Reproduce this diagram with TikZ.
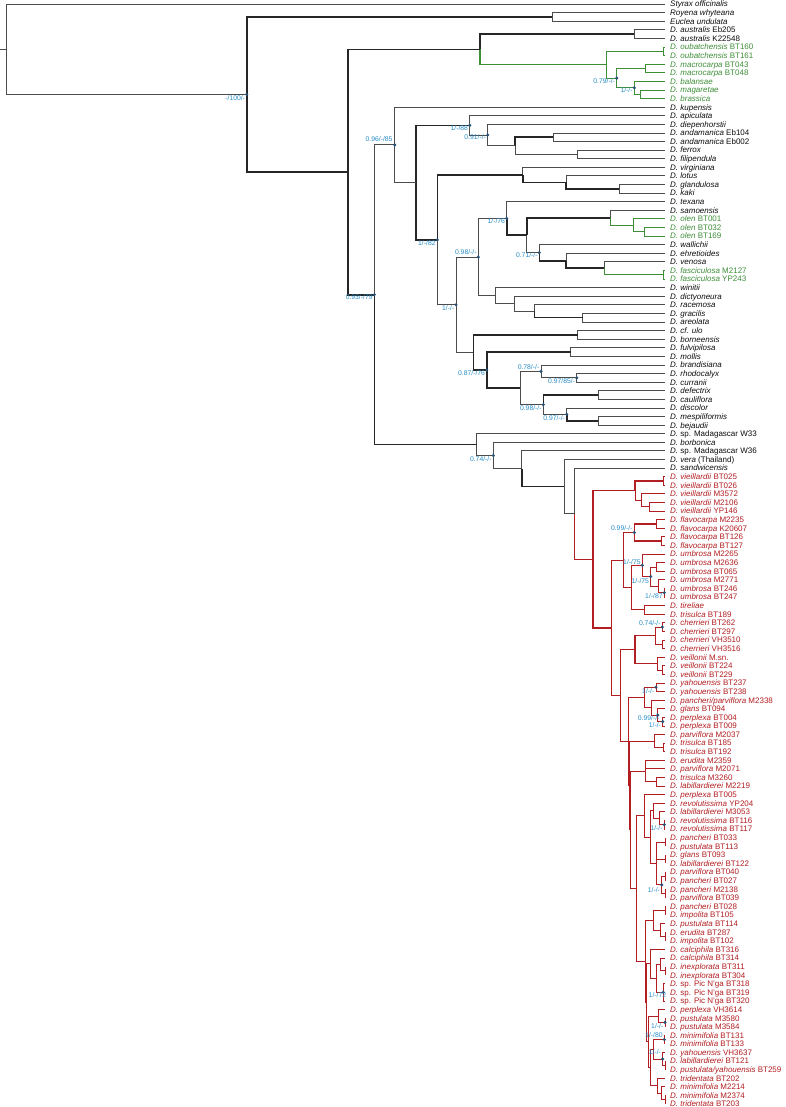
\documentclass[tikz,border=0pt]{standalone}
\usepackage{fontspec}
\setmainfont{Liberation Sans}
\usetikzlibrary{calc}

\definecolor{ink}{gray}{0.3}
\definecolor{tx}{gray}{0.05}
\definecolor{leaf}{RGB}{62,142,56}
\definecolor{nc}{RGB}{178,30,34}
\definecolor{supc}{RGB}{38,140,200}
\definecolor{dotc}{RGB}{40,82,118}

% internal node: x given, y halfway between first and last child
\newcommand\nd[4]{\coordinate (#1) at ($(#3)!.5!(#4)$);\coordinate (#1) at (#2,0 |- #1);}
% elbow branches from a parent to its children
\newcommand\kids[3][]{\foreach \k in {#3}{\draw[br,#1] (#2) |- (\k);}}
% support value with its dot
\newcommand\bs[5][-1.5]{\fill[dotc] (#3) circle[radius=1.7pt];
  \node[sup] (#2) at ([shift={(#1,{#5+2.4})}]#3) {#4};}

\begin{document}
\begin{tikzpicture}[x=1pt,y=-1pt,
  br/.style={draw=ink, line width=0.8pt},
  thk/.style={draw=black!85, line width=1.6pt},
  gn/.style={draw=leaf},
  rd/.style={draw=nc},
  tip/.style={anchor=base west, inner sep=0pt, font=\fontsize{8}{9}\selectfont},
  sup/.style={anchor=base east, inner sep=0pt, text=supc, font=\fontsize{6.8}{7}\selectfont},
]
\useasboundingbox[fill=white] (0,0) rectangle (785,1107);

% tips
\foreach \c/\lab [count=\i] in {
  tx/{\textit{Styrax officinalis}}, tx/{\textit{Royena whyteana}}, tx/{\textit{Euclea undulata}},
  tx/{\textit{D. australis} Eb205}, tx/{\textit{D. australis} K22548},
  leaf/{\textit{D. oubatchensis} BT160}, leaf/{\textit{D. oubatchensis} BT161},
  leaf/{\textit{D. macrocarpa} BT043}, leaf/{\textit{D. macrocarpa} BT048},
  leaf/{\textit{D. balansae}}, leaf/{\textit{D. magaretae}}, leaf/{\textit{D. brassica}},
  tx/{\textit{D. kupensis}}, tx/{\textit{D. apiculata}}, tx/{\textit{D. diepenhorstii}},
  tx/{\textit{D. andamanica} Eb104}, tx/{\textit{D. andamanica} Eb002},
  tx/{\textit{D. ferrox}}, tx/{\textit{D. filipendula}}, tx/{\textit{D. virginiana}},
  tx/{\textit{D. lotus}}, tx/{\textit{D. glandulosa}}, tx/{\textit{D. kaki}},
  tx/{\textit{D. texana}}, tx/{\textit{D. samoensis}},
  leaf/{\textit{D. olen} BT001}, leaf/{\textit{D. olen} BT032}, leaf/{\textit{D. olen} BT169},
  tx/{\textit{D. wallichii}}, tx/{\textit{D. ehretioides}}, tx/{\textit{D. venosa}},
  leaf/{\textit{D. fasciculosa} M2127}, leaf/{\textit{D. fasciculosa} YP243},
  tx/{\textit{D. winitii}}, tx/{\textit{D. dictyoneura}}, tx/{\textit{D. racemosa}},
  tx/{\textit{D. gracilis}}, tx/{\textit{D. areolata}}, tx/{\textit{D. cf. ulo}},
  tx/{\textit{D. borneensis}}, tx/{\textit{D. fulvipilosa}}, tx/{\textit{D. mollis}},
  tx/{\textit{D. brandisiana}}, tx/{\textit{D. rhodocalyx}}, tx/{\textit{D. curranii}},
  tx/{\textit{D. defectrix}}, tx/{\textit{D. cauliflora}}, tx/{\textit{D. discolor}},
  tx/{\textit{D. mespiliformis}}, tx/{\textit{D. bejaudii}},
  tx/{\textit{D.} sp. Madagascar W33}, tx/{\textit{D. borbonica}},
  tx/{\textit{D.} sp. Madagascar W36}, tx/{\textit{D. vera} (Thailand)},
  tx/{\textit{D. sandwicensis}},
  nc/{\textit{D. vieillardii} BT025}, nc/{\textit{D. vieillardii} BT026},
  nc/{\textit{D. vieillardii} M3572}, nc/{\textit{D. vieillardii} M2106},
  nc/{\textit{D. vieillardii} YP146},
  nc/{\textit{D. flavocarpa} M2235}, nc/{\textit{D. flavocarpa} K20607},
  nc/{\textit{D. flavocarpa} BT126}, nc/{\textit{D. flavocarpa} BT127},
  nc/{\textit{D. umbrosa} M2265}, nc/{\textit{D. umbrosa} M2636}, nc/{\textit{D. umbrosa} BT065},
  nc/{\textit{D. umbrosa} M2771}, nc/{\textit{D. umbrosa} BT246}, nc/{\textit{D. umbrosa} BT247},
  nc/{\textit{D. tireliae}}, nc/{\textit{D. trisulca} BT189},
  nc/{\textit{D. cherrieri} BT262}, nc/{\textit{D. cherrieri} BT297},
  nc/{\textit{D. cherrieri} VH3510}, nc/{\textit{D. cherrieri} VH3516},
  nc/{\textit{D. veillonii} M.sn.}, nc/{\textit{D. veillonii} BT224}, nc/{\textit{D. veillonii} BT229},
  nc/{\textit{D. yahouensis} BT237}, nc/{\textit{D. yahouensis} BT238},
  nc/{\textit{D. pancheri/parviflora} M2338}, nc/{\textit{D. glans} BT094},
  nc/{\textit{D. perplexa} BT004}, nc/{\textit{D. perplexa} BT009},
  nc/{\textit{D. parviflora} M2037}, nc/{\textit{D. trisulca} BT185}, nc/{\textit{D. trisulca} BT192},
  nc/{\textit{D. erudita} M2359}, nc/{\textit{D. parviflora} M2071}, nc/{\textit{D. trisulca} M3260},
  nc/{\textit{D. labillardierei} M2219}, nc/{\textit{D. perplexa} BT005},
  nc/{\textit{D. revolutissima} YP204}, nc/{\textit{D. labillardierei} M3053},
  nc/{\textit{D. revolutissima} BT116}, nc/{\textit{D. revolutissima} BT117},
  nc/{\textit{D. pancheri} BT033}, nc/{\textit{D. pustulata} BT113}, nc/{\textit{D. glans} BT093},
  nc/{\textit{D. labillardierei} BT122}, nc/{\textit{D. parviflora} BT040},
  nc/{\textit{D. pancheri} BT027}, nc/{\textit{D. pancheri} M2138}, nc/{\textit{D. parviflora} BT039},
  nc/{\textit{D. pancheri} BT028}, nc/{\textit{D. impolita} BT105}, nc/{\textit{D. pustulata} BT114},
  nc/{\textit{D. erudita} BT287}, nc/{\textit{D. impolita} BT102},
  nc/{\textit{D. calciphila} BT316}, nc/{\textit{D. calciphila} BT314},
  nc/{\textit{D. inexplorata} BT311}, nc/{\textit{D. inexplorata} BT304},
  nc/{\textit{D.} sp. Pic N'ga BT318}, nc/{\textit{D.} sp. Pic N'ga BT319},
  nc/{\textit{D.} sp. Pic N'ga BT320}, nc/{\textit{D. perplexa} VH3614},
  nc/{\textit{D. pustulata} M3580}, nc/{\textit{D. pustulata} M3584},
  nc/{\textit{D. minimifolia} BT131}, nc/{\textit{D. minimifolia} BT133},
  nc/{\textit{D. yahouensis} VH3637}, nc/{\textit{D. labillardierei} BT121},
  nc/{\textit{D. pustulata/yahouensis} BT259}, nc/{\textit{D. tridentata} BT202},
  nc/{\textit{D. minimifolia} M2214}, nc/{\textit{D. minimifolia} M2374},
  nc/{\textit{D. tridentata} BT203}}{
  \coordinate (t\i) at (665,{4+(\i-1)*8.594});
  \node[tip, text=\c] (l\i) at ([shift={(5,2.9)}]t\i) {\lab};
}

% outgroups and the first Diospyros clades
\nd{nRE}{552}{t2}{t3} \kids{nRE}{t2,t3}
\nd{nAus}{634}{t4}{t5} \kids{nAus}{t4,t5}
\nd{nOub}{663.3}{t6}{t7} \kids[gn]{nOub}{t6,t7}
\nd{nMac}{645.7}{t8}{t9} \kids[gn]{nMac}{t8,t9}
\nd{nMB}{640}{t11}{t12} \kids[gn]{nMB}{t11,t12}
\nd{nBal}{634.3}{t10}{nMB} \kids[gn]{nBal}{t10,nMB}
\nd{nMacBal}{616.7}{nMac}{nBal} \kids[gn]{nMacBal}{nMac,nBal}
\nd{nGreen}{606.7}{nOub}{nMacBal} \kids[gn]{nGreen}{nOub,nMacBal}
\nd{nAusG}{480}{nAus}{nGreen} \kids[thk]{nAusG}{nAus} \kids[thk,gn]{nAusG}{nGreen}

% asian / american clades
\nd{nAnd}{553.3}{t16}{t17} \kids{nAnd}{t16,t17}
\nd{nFer}{577.7}{t18}{t19} \kids{nFer}{t18,t19}
\nd{nAF}{515}{nAnd}{nFer} \kids[thk]{nAF}{nAnd} \kids{nAF}{nFer}
\nd{nDie}{487.7}{t15}{nAF} \kids{nDie}{t15,nAF}
\nd{nApi}{469.7}{t14}{nDie} \kids{nApi}{t14,nDie}
\nd{nGK}{619.3}{t22}{t23} \kids{nGK}{t22,t23}
\nd{nLot}{566}{t21}{nGK} \kids{nLot}{t21} \kids[thk]{nLot}{nGK}
\nd{nVir}{522.7}{t20}{nLot} \kids{nVir}{t20} \kids[thk]{nVir}{nLot}
\nd{nOlen2}{644.3}{t27}{t28} \kids[gn]{nOlen2}{t27,t28}
\nd{nOlen}{633.3}{t26}{nOlen2} \kids[gn]{nOlen}{t26,nOlen2}
\nd{nSam}{610}{t25}{nOlen} \kids{nSam}{t25} \kids[gn]{nSam}{nOlen}
\nd{nFas}{663.3}{t32}{t33} \kids[gn]{nFas}{t32,t33}
\nd{nVen}{604}{t31}{nFas} \kids{nVen}{t31} \kids[gn]{nVen}{nFas}
\nd{nEhr}{566}{t30}{nVen} \kids{nEhr}{t30} \kids[thk]{nEhr}{nVen}
\nd{nWal}{539.3}{t29}{nEhr} \kids{nWal}{t29} \kids[thk]{nWal}{nEhr}
\nd{nF}{526.7}{nSam}{nWal} \kids[thk]{nF}{nSam} \kids{nF}{nWal}
\nd{nTex}{506.7}{t24}{nF} \kids{nTex}{t24} \kids[thk]{nTex}{nF}
\nd{nGA}{582.7}{t37}{t38} \kids{nGA}{t37,t38}
\nd{nRac}{534.3}{t36}{nGA} \kids{nRac}{t36} \kids[thk]{nRac}{nGA}
\nd{nDic}{514.3}{t35}{nRac} \kids{nDic}{t35,nRac}
\nd{nWin}{495}{t34}{nDic} \kids{nWin}{t34,nDic}
\nd{nB98}{478.3}{nTex}{nWin} \kids{nB98}{nTex,nWin}
\nd{nUlo}{577.7}{t39}{t40} \kids{nUlo}{t39,t40}
\nd{nFul}{570.7}{t41}{t42} \kids{nFul}{t41,t42}
\nd{nRC}{576.7}{t44}{t45} \kids{nRC}{t44,t45}
\nd{nBra}{541}{t43}{nRC} \kids{nBra}{t43,nRC}
\nd{nDC}{598.3}{t46}{t47} \kids{nDC}{t46,t47}
\nd{nMB2}{598.3}{t49}{t50} \kids{nMB2}{t49,t50}
\nd{nDis}{566.7}{t48}{nMB2} \kids{nDis}{t48} \kids[thk]{nDis}{nMB2}
\nd{nDef}{543.3}{nDC}{nDis} \kids[thk]{nDef}{nDC} \kids{nDef}{nDis}
\nd{nE}{520}{nBra}{nDef} \kids{nE}{nBra,nDef}
\nd{nD}{486.7}{nFul}{nE} \kids[thk]{nD}{nFul,nE}
\nd{nC}{473.3}{nUlo}{nD} \kids[thk]{nC}{nUlo,nD}
\nd{nB}{456}{nB98}{nC} \kids{nB}{nB98,nC}
\nd{nA}{437.3}{nVir}{nB} \kids[thk]{nA}{nVir} \kids{nA}{nB}
\nd{nCore}{416}{nApi}{nA} \kids[thk]{nCore}{nApi,nA}
\nd{nKup}{394.7}{t13}{nCore} \kids{nKup}{t13,nCore}

% New Caledonian clade
\nd{nV1}{663.3}{t56}{t57} \kids[rd]{nV1}{t56,t57}
\nd{nV3}{649.3}{t59}{t60} \kids[rd]{nV3}{t59,t60}
\nd{nV2}{641.7}{t58}{nV3} \kids[rd]{nV2}{t58,nV3}
\nd{nVie}{635}{nV1}{nV2} \kids[thk,rd]{nVie}{nV1} \kids[rd]{nVie}{nV2}
\nd{nFl1}{656.7}{t61}{t62} \kids[rd]{nFl1}{t61,t62}
\nd{nFl2}{661.7}{t63}{t64} \kids[rd]{nFl2}{t63,t64}
\nd{nFla}{634.3}{nFl1}{nFl2} \kids[thk,rd]{nFla}{nFl1,nFl2}
\nd{nU1}{656.7}{t66}{t67} \kids[rd]{nU1}{t66,t67}
\nd{nU3}{664.3}{t69}{t70} \kids[rd]{nU3}{t69,t70}
\nd{nU2}{658.3}{t68}{nU3} \kids[rd]{nU2}{t68,nU3}
\nd{nU12}{650.7}{nU1}{nU2} \kids[rd]{nU12}{nU1,nU2}
\nd{nUmb}{642.3}{t65}{nU12} \kids[rd]{nUmb}{t65,nU12}
\nd{nTir}{644.3}{t71}{t72} \kids[rd]{nTir}{t71,t72}
\nd{nUT}{631.7}{nUmb}{nTir} \kids[rd]{nUT}{nUmb,nTir}
\nd{nFU}{623.3}{nFla}{nUT} \kids[rd]{nFU}{nFla,nUT}
\nd{nCh1}{662.3}{t73}{t74} \kids[rd]{nCh1}{t73,t74}
\nd{nCh2}{662.3}{t75}{t76} \kids[rd]{nCh2}{t75,t76}
\nd{nChe}{655}{nCh1}{nCh2} \kids[rd]{nChe}{nCh1,nCh2}
\nd{nVe2}{662.3}{t78}{t79} \kids[rd]{nVe2}{t78,t79}
\nd{nVei}{657.7}{t77}{nVe2} \kids[rd]{nVei}{t77,nVe2}
\nd{nCV}{635}{nChe}{nVei} \kids[thk,rd]{nCV}{nChe,nVei}
\nd{nYa}{656}{t80}{t81} \kids[rd]{nYa}{t80,t81}
\nd{nPe}{662.7}{t84}{t85} \kids[rd]{nPe}{t84,t85}
\nd{nGl}{657.7}{t83}{nPe} \kids[rd]{nGl}{t83,nPe}
\nd{nPP}{651.7}{t82}{nGl} \kids[rd]{nPP}{t82,nGl}
\nd{nYP}{644.3}{nYa}{nPP} \kids[rd]{nYP}{nYa,nPP}
\nd{nTr}{663.3}{t87}{t88} \kids[rd]{nTr}{t87,t88}
\nd{nM20}{654.3}{t86}{nTr} \kids[rd]{nM20}{t86,nTr}
\nd{nTL}{656.7}{t91}{t92} \kids[rd]{nTL}{t91,t92}
\nd{nEru}{645}{t89}{nTL} \kids[rd]{nEru}{t89,t90,nTL}
\nd{nRv3}{664.3}{t96}{t97} \kids[rd]{nRv3}{t96,t97}
\nd{nRv2}{659}{t95}{nRv3} \kids[rd]{nRv2}{t95,nRv3}
\nd{nRv1}{653.3}{t94}{nRv2} \kids[rd]{nRv1}{t94,nRv2}
\nd{nPa1}{665}{t98}{t99} \kids[rd]{nPa1}{t98,t99}
\nd{nGl2}{665}{t100}{t101} \kids[rd]{nGl2}{t100,t101}
\nd{nPa2a}{665}{t102}{t103} \kids[rd]{nPa2a}{t102,t103}
\nd{nPa2b}{665}{t104}{t105} \kids[rd]{nPa2b}{t104,t105}
\nd{nPa2}{661.7}{nPa2a}{nPa2b} \kids[rd]{nPa2}{nPa2a,nPa2b}
\nd{nPG}{656.7}{nPa1}{nPa2} \kids[rd]{nPG}{nPa1,nGl2,nPa2}
\nd{nK}{650}{nRv1}{nPG} \kids[rd]{nK}{nRv1,nPG}
\nd{nR1}{644.3}{t93}{nK} \kids[rd]{nR1}{t93,nK}
\nd{nIm1}{665}{t106}{t107} \kids[rd]{nIm1}{t106,t107}
\nd{nIm3}{665}{t109}{t110} \kids[rd]{nIm3}{t109,t110}
\nd{nIm2}{660.3}{t108}{nIm3} \kids[rd]{nIm2}{t108,nIm3}
\nd{nIm}{653.3}{nIm1}{nIm2} \kids[rd]{nIm}{nIm1,nIm2}
\nd{nIx}{665}{t113}{t114} \kids[rd]{nIx}{t113,t114}
\nd{nCa2}{660}{t112}{nIx} \kids[rd]{nCa2}{t112,nIx}
\nd{nPic}{663.3}{t115}{t117} \kids[rd]{nPic}{t115,t116,t117}
\nd{nCP}{656.7}{nCa2}{nPic} \kids[rd]{nCP}{nCa2,nPic}
\nd{nCa}{650}{t111}{nCP} \kids[rd]{nCa}{t111,nCP}
\nd{nPu}{665}{t119}{t120} \kids[rd]{nPu}{t119,t120}
\nd{nPv}{658.3}{t118}{nPu} \kids[rd]{nPv}{t118,nPu}
\nd{nMi}{664.3}{t121}{t122} \kids[rd]{nMi}{t121,t122}
\nd{nLb}{665}{t124}{t125} \kids[rd]{nLb}{t124,t125}
\nd{nYh}{662.7}{t123}{nLb} \kids[rd]{nYh}{t123,nLb}
\nd{nTd3}{665}{t128}{t129} \kids[rd]{nTd3}{t128,t129}
\nd{nTd2}{661}{t127}{nTd3} \kids[rd]{nTd2}{t127,nTd3}
\nd{nTd}{657.7}{t126}{nTd2} \kids[rd]{nTd}{t126,nTd2}
\nd{nMY}{653.3}{nMi}{nYh} \kids[rd]{nMY}{nMi,nYh}
\nd{nMYT}{650}{nMY}{nTd} \kids[rd]{nMYT}{nMY,nTd}
\nd{nPMT}{648.3}{nPv}{nMYT} \kids[rd]{nPMT}{nPv,nMYT}
\nd{nCPM}{646.7}{nCa}{nPMT} \kids[rd]{nCPM}{nCa,nPMT}
\nd{nLowB}{645}{nIm}{nCPM} \kids[rd]{nLowB}{nIm,nCPM}
\nd{nR}{636.7}{nR1}{nLowB} \kids[rd]{nR}{nR1,nLowB}
\nd{nU}{630}{nEru}{nR} \kids[rd]{nU}{nEru,nR}
\nd{nV}{629.3}{nM20}{nU} \kids[rd]{nV}{nM20,nU}
\nd{nX}{628.5}{nYP}{nV} \kids[rd]{nX}{nYP,nV}
\nd{nP}{620.7}{nCV}{nX} \kids[rd]{nP}{nCV,nX}
\nd{nLow}{611.7}{nFU}{nP} \kids[rd]{nLow}{nFU,nP}
\nd{nRed}{592.7}{nVie}{nLow} \kids[thk,rd]{nRed}{nVie,nLow}

% backbone
\nd{nSand}{574.3}{t55}{nRed} \kids{nSand}{t55} \kids[rd]{nSand}{nRed}
\nd{nVera}{564.3}{t54}{nSand} \kids{nVera}{t54,nSand}
\nd{nW36}{521.7}{t53}{nVera} \kids{nW36}{t53} \kids[thk]{nW36}{nVera}
\nd{nBor}{493.3}{t52}{nW36} \kids{nBor}{t52,nW36}
\nd{nW33}{476.7}{t51}{nBor} \kids{nW33}{t51,nBor}
\nd{nIn}{374.3}{nKup}{nW33} \kids{nIn}{nKup} \kids[thk]{nIn}{nW33}
\nd{nDio}{347.7}{nAusG}{nIn} \kids[thk]{nDio}{nAusG,nIn}
\nd{nEb}{246.7}{nRE}{nDio} \kids[thk]{nEb}{nRE,nDio}
\nd{nRoot}{6.5}{t1}{nEb} \kids{nRoot}{t1,nEb}
\coordinate (stem) at (0,0 |- nRoot);
\draw[br] (stem) -- (nRoot);

% support values
\bs{s1}{nEb}{-/100/-}{3.5}
\bs[-2]{s2}{nKup}{0.96/-/85}{-5.5}
\bs{s3}{nApi}{1/-/88}{2.3}
\bs{s4}{nDie}{0.91/-/-}{2.5}
\bs{s5}{nMacBal}{0.79/-/-}{3}
\bs{s6}{nBal}{1/-/-}{2.3}
\bs{s7}{nIn}{0.93/-/79}{2.4}
\bs{s8}{nA}{1/-/82}{3}
\bs{s9}{nTex}{1/-/76}{2.6}
\bs{s10}{nB98}{0.98/-/-}{-4.7}
\bs{s11}{nWal}{0.71/-/-}{2.4}
\bs{s12}{nB}{1/-/-}{3}
\bs{s13}{nD}{0.87/-/76}{2.7}
\bs{s14}{nBra}{0.78/-/-}{-4}
\bs{s15}{nRC}{0.97/85/-}{3}
\bs{s16}{nDef}{0.98/-/-}{3.4}
\bs{s17}{nDis}{0.97/-/-}{4}
\bs{s18}{nBor}{0.74/-/-}{3.3}
\bs{s19}{nFla}{0.99/-/-}{-4.1}
\bs{s20}{nUmb}{1/-/75}{-3.6}
\bs{s21}{nU12}{1/-/75}{4.1}
\bs{s22}{nU3}{1/-/87}{3.3}
\bs{s23}{nCh1}{0.74/-/-}{-3.5}
\bs{s24}{nYa}{1/-/-}{3.4}
\bs[2]{s25}{nGl}{0.99/-/-}{3}
\bs{s26}{nPe}{1/-/-}{3.3}
\bs{s27}{nRv3}{1/-/-}{3.4}
\bs{s28}{nPa2}{1/-/-}{4.9}
\bs[3]{s29}{nPic}{1/-/72}{2.4}
\bs{s30}{nPu}{1/-/-}{3.3}
\bs{s31}{nMi}{1/-/80}{-4.9}
\bs{s32}{nYh}{1/-/-}{-7}
\end{tikzpicture}
\end{document}
